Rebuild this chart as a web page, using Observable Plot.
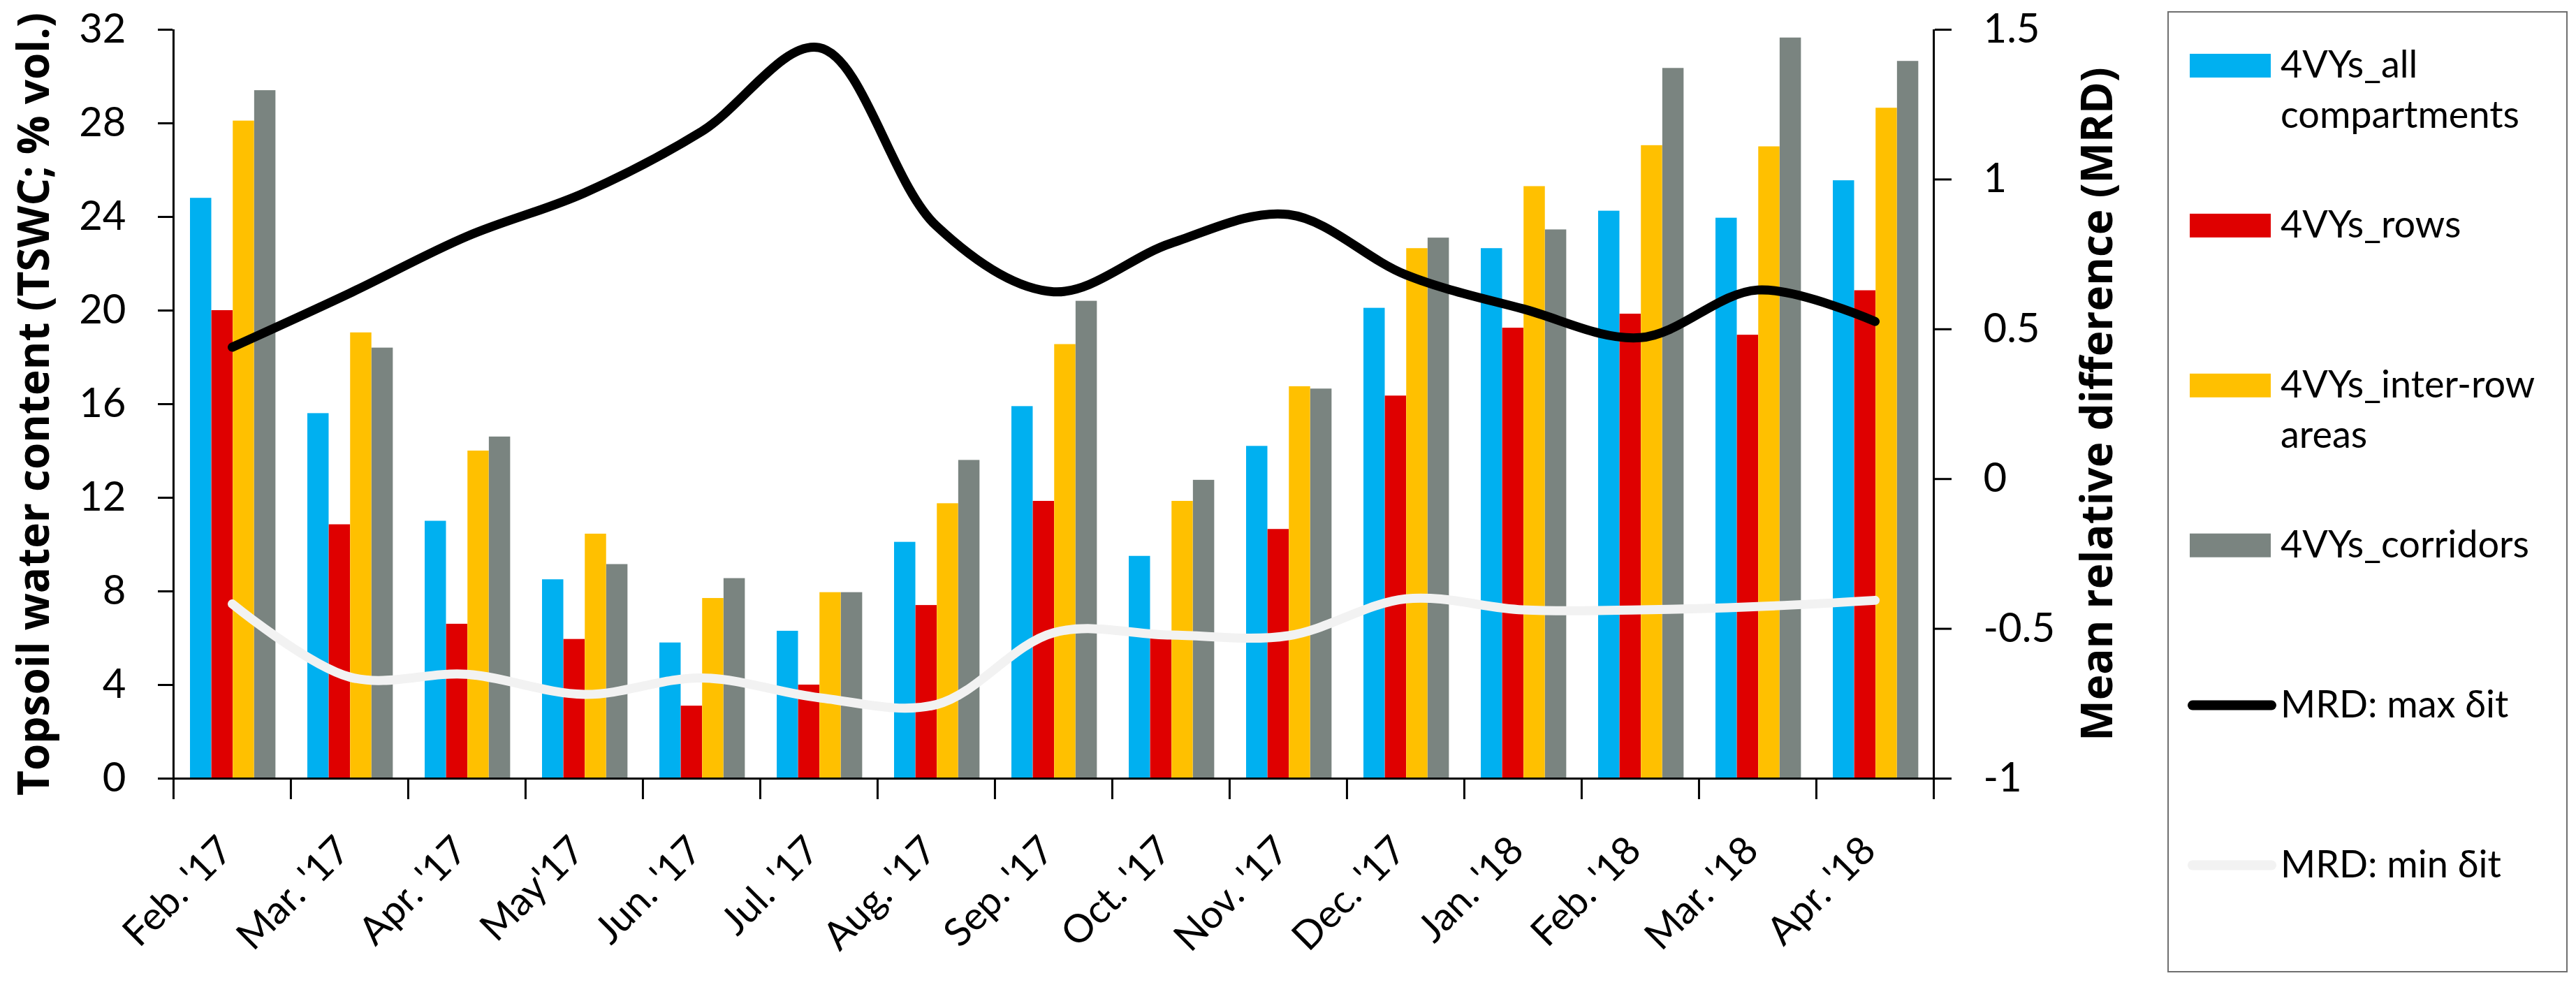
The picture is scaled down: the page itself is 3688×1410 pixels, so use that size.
<!DOCTYPE html>
<html>
<head>
<meta charset="utf-8">
<script src="https://cdn.jsdelivr.net/npm/d3@7"></script>
<script src="https://cdn.jsdelivr.net/npm/@observablehq/plot@0.6"></script>
<style>
html, body { margin: 0; padding: 0; background: #fff; }
#wrap { position: relative; width: 3688px; height: 1410px; overflow: hidden; }
#legend { position: absolute; left: 3103px; top: 16px; }
</style>
</head>
<body>
<div id="wrap"><div id="chart"></div><svg id="legend"></svg></div>
<script>
// ---------- data ----------
const months = ["Feb. '17", "Mar. '17", "Apr. '17", "May'17", "Jun. '17", "Jul. '17", "Aug. '17",
  "Sep. '17", "Oct. '17", "Nov. '17", "Dec. '17", "Jan. '18", "Feb. '18", "Mar. '18", "Apr. '18"];

const allCompartments = [24.8, 15.6, 11.0, 8.5, 5.8, 6.3, 10.1, 15.9, 9.5, 14.2, 20.1, 22.65, 24.25, 23.95, 25.55];
const rows            = [20.0, 10.85, 6.6, 5.95, 3.1, 4.0, 7.4, 11.85, 6.0, 10.65, 16.35, 19.25, 19.85, 18.95, 20.85];
const interRow        = [28.1, 19.05, 14.0, 10.45, 7.7, 7.95, 11.75, 18.55, 11.85, 16.75, 22.65, 25.3, 27.05, 27.0, 28.65];
const corridors       = [29.4, 18.4, 14.6, 9.15, 8.55, 7.95, 13.6, 20.4, 12.75, 16.65, 23.1, 23.45, 30.35, 31.65, 30.65];

const mrdMax = [0.44, 0.62, 0.81, 0.955, 1.16, 1.44, 0.845, 0.625, 0.787, 0.883, 0.682, 0.568, 0.472, 0.631, 0.526];
const mrdMin = [-0.417, -0.661, -0.652, -0.719, -0.664, -0.73, -0.753, -0.513, -0.521, -0.523, -0.40, -0.437, -0.437, -0.426, -0.405];

const seriesNames = ["4VYs_all compartments", "4VYs_rows", "4VYs_inter-row areas", "4VYs_corridors"];
const seriesColors = ["#00B0F0", "#DF0000", "#FFC000", "#7A8480"];
const lineNames = ["MRD: max δit", "MRD: min δit"];
const lineColors = ["#000000", "#F2F2F2"];

const leftTicks = [0, 4, 8, 12, 16, 20, 24, 28, 32];
const rightTicks = [-1, -0.5, 0, 0.5, 1, 1.5];
const leftTitle = "Topsoil water content (TSWC; % vol.)";
const rightTitle = "Mean relative difference (MRD)";

// ---------- layout ----------
const W = 3688, H = 1410, mL = 247, mR = 919, mT = 42, mB = 296;
const yMax = 32, mrdLo = -1, mrdHi = 1.5;
const bw = (W - mL - mR) / months.length;
const pxPerUnit = (H - mT - mB) / yMax;
const tickUnits = 30 / pxPerUnit;
const toLeft = v => (v - mrdLo) * yMax / (mrdHi - mrdLo);
const fromLeft = d => Math.round((d * (mrdHi - mrdLo) / yMax + mrdLo) * 100) / 100;
const gapFrac = 24 / 168.13, barFrac = 30.62 / 168.13;

const series = [allCompartments, rows, interRow, corridors];
const barMarks = series.map((vals, k) =>
  Plot.barY(months.map((m, i) => ({month: m, value: vals[i], series: seriesNames[k]})), {
    x: "month", y: "value", fill: seriesColors[k],
    insetLeft: bw * (gapFrac + k * barFrac),
    insetRight: bw * (1 - gapFrac - (k + 1) * barFrac)
  })
);

const lineData = [mrdMax, mrdMin].map(arr => months.map((m, i) => ({month: m, mrd: arr[i]})));
const lineMarks = lineData.map((d, k) =>
  Plot.line(d, {x: "month", y: r => toLeft(r.mrd), curve: "catmull-rom",
    stroke: lineColors[k], strokeWidth: 13, strokeLinecap: "round", strokeLinejoin: "round"})
);

const axisStyle = {fontSize: 58, fontFamily: "Lato, 'Open Sans', sans-serif", color: "black", strokeWidth: 3, label: null};
const last = months[months.length - 1];
const titleStyle = {text: d => d, rotate: -90, textAnchor: "middle", lineAnchor: "middle",
  fontSize: 62, fontWeight: "bold", fontFamily: "'Open Sans', sans-serif", fill: "black"};

const chart = Plot.plot({
  width: W, height: H,
  marginLeft: mL, marginRight: mR, marginTop: mT, marginBottom: mB,
  style: {background: "white", overflow: "visible"},
  x: {type: "band", domain: months, padding: 0, axis: null},
  y: {domain: [0, yMax]},
  marks: [
    ...barMarks,
    Plot.ruleY([0], {stroke: "black", strokeWidth: 3}),
    Plot.ruleX(months, {x: d => d, dx: -bw / 2, y1: () => 0, y2: () => -tickUnits, stroke: "black", strokeWidth: 3}),
    Plot.ruleX([months[0]], {x: d => d, dx: -bw / 2, y1: () => 0, y2: () => yMax, stroke: "black", strokeWidth: 3}),
    Plot.ruleX([last], {x: d => d, dx: bw / 2, y1: () => -tickUnits, y2: () => yMax, stroke: "black", strokeWidth: 3}),
    Plot.axisY({anchor: "left", ticks: leftTicks, tickSize: 21, tickPadding: 46, ...axisStyle}),
    Plot.axisY({anchor: "right", ticks: rightTicks.map(toLeft), tickFormat: d => String(fromLeft(d)),
      tickSize: 24, tickPadding: 46, ...axisStyle}),
    Plot.text(months, {x: d => d, y: () => 0, text: d => d, rotate: -45, textAnchor: "end", lineAnchor: "bottom",
      dx: 4, dy: 106, fontSize: 56, fontFamily: "Lato, 'Open Sans', sans-serif", fill: "black"}),
    Plot.text([leftTitle], {frameAnchor: "left", dx: 50 - mL, ...titleStyle}),
    Plot.text([rightTitle], {frameAnchor: "right", dx: 3004 - (W - mR), ...titleStyle}),
    ...lineMarks
  ]
});
document.getElementById("chart").appendChild(chart);

// ---------- legend ----------
const legW = 573, legH = 1377;
const leg = d3.select("#legend").attr("width", legW).attr("height", legH);
leg.append("rect").attr("x", 1).attr("y", 1).attr("width", legW - 2).attr("height", legH - 3)
  .attr("fill", "white").attr("stroke", "#6f6f6f").attr("stroke-width", 2);

const items = [
  ...seriesNames.map((n, i) => ({type: "bar", color: seriesColors[i],
    lines: n.includes(" ") ? n.split(" ") : [n]})),
  ...lineNames.map((n, i) => ({type: "line", color: lineColors[i], lines: [n]}))
];
const step = 228.9, firstCenter = 78;
items.forEach((it, i) => {
  const cy = firstCenter + i * step;
  if (it.type === "bar") {
    leg.append("rect").attr("x", 32).attr("y", cy - 17).attr("width", 116).attr("height", 34).attr("fill", it.color);
  } else {
    leg.append("line").attr("x1", 36).attr("x2", 149).attr("y1", cy).attr("y2", cy)
      .attr("stroke", it.color).attr("stroke-width", 14).attr("stroke-linecap", "round");
  }
  it.lines.forEach((t, j) => {
    leg.append("text").attr("x", 162).attr("y", cy + 17 + j * 72)
      .attr("font-family", "Lato, 'Open Sans', sans-serif").attr("font-size", 54).attr("fill", "black")
      .text(t);
  });
});
</script>
</body>
</html>
